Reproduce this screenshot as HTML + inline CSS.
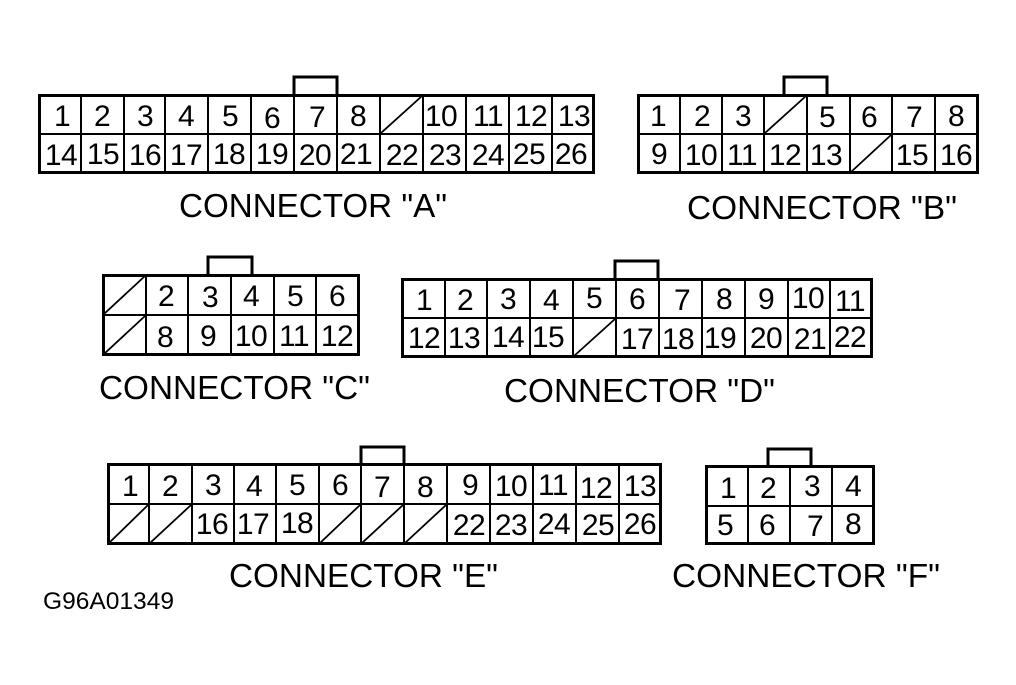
<!DOCTYPE html>
<html><head><meta charset="utf-8"><style>
html,body{margin:0;padding:0;background:#fff}
svg{display:block}
text{font-family:"Liberation Sans",sans-serif;fill:#000}
.n text{font-size:30px;text-anchor:middle;letter-spacing:-0.6px}
.l{font-size:33px}
.o{fill:none;stroke:#000;stroke-width:3}
.i{fill:none;stroke:#000;stroke-width:2}
.s{fill:none;stroke:#000;stroke-width:1.8}
</style></head><body>
<svg width="1016" height="685" viewBox="0 0 1016 685" xmlns="http://www.w3.org/2000/svg">
<!-- A -->
<rect class="o" x="39.5" y="95.5" width="554" height="77"/>
<path class="i" d="M39 134H594M81 95V173M124 95V173M165 95V173M208 95V173M251 95V173M294 95V173M337 95V173M380 95V173M423 95V173M466 95V173M509 95V173M552 95V173"/>
<path class="o" d="M294 95V77H337V95"/>
<path class="s" d="M381 133L422 96"/>
<g class="n">
<text x="62" y="126">1</text><text x="102" y="126">2</text><text x="145" y="126">3</text><text x="186" y="126">4</text><text x="230" y="126">5</text><text x="272" y="128">6</text><text x="317" y="127">7</text><text x="358" y="126">8</text><text x="441" y="126">10</text><text x="488" y="126">11</text><text x="531" y="126">12</text><text x="574" y="126">13</text>
<text x="61" y="165">14</text><text x="103" y="164">15</text><text x="145" y="165">16</text><text x="186" y="165">17</text><text x="229" y="164">18</text><text x="272" y="164">19</text><text x="315" y="165">20</text><text x="356" y="164">21</text><text x="402" y="165">22</text><text x="445" y="165">23</text><text x="488" y="165">24</text><text x="529" y="164">25</text><text x="571" y="164">26</text>
</g>
<text class="l" x="179" y="217" textLength="268" lengthAdjust="spacingAndGlyphs">CONNECTOR "A"</text>
<!-- B -->
<rect class="o" x="638.5" y="95.5" width="339" height="77"/>
<path class="i" d="M638 134H978M680 95V173M722 95V173M764 95V173M807 95V173M850 95V173M892 95V173M935 95V173"/>
<path class="o" d="M784 95V77H827V95"/>
<path class="s" d="M765 133L806 96M851 172L891 135"/>
<g class="n">
<text x="658" y="126">1</text><text x="702" y="126">2</text><text x="743" y="126">3</text><text x="827" y="127">5</text><text x="869" y="127">6</text><text x="914" y="127">7</text><text x="956" y="126">8</text>
<text x="659" y="164">9</text><text x="701" y="165">10</text><text x="742" y="165">11</text><text x="785" y="165">12</text><text x="826" y="165">13</text><text x="912" y="165">15</text><text x="956" y="165">16</text>
</g>
<text class="l" x="687" y="219" textLength="270" lengthAdjust="spacingAndGlyphs">CONNECTOR "B"</text>
<!-- C -->
<rect class="o" x="103.5" y="275.5" width="255" height="79"/>
<path class="i" d="M103 315H358M146 275V355M188 275V355M231 275V355M274 275V355M316 275V355"/>
<path class="o" d="M208 275V257H252V275"/>
<path class="s" d="M104 314L145 276M104 354L145 316"/>
<g class="n">
<text x="166" y="306">2</text><text x="210" y="307">3</text><text x="251" y="306">4</text><text x="295" y="306">5</text><text x="337" y="306">6</text>
<text x="165" y="347">8</text><text x="208" y="346">9</text><text x="251" y="346">10</text><text x="294" y="346">11</text><text x="337" y="346">12</text>
</g>
<text class="l" x="99" y="399" textLength="271" lengthAdjust="spacingAndGlyphs">CONNECTOR "C"</text>
<!-- D -->
<rect class="o" x="402.5" y="279.5" width="469" height="77"/>
<path class="i" d="M402 318H872M445 279V357M487 279V357M530 279V357M573 279V357M616 279V357M659 279V357M702 279V357M745 279V357M788 279V357M830 279V357"/>
<path class="o" d="M615 279V261H658V279"/>
<path class="s" d="M574 356L615 319"/>
<g class="n">
<text x="424" y="310">1</text><text x="465" y="310">2</text><text x="508" y="309">3</text><text x="551" y="310">4</text><text x="594" y="308">5</text><text x="637" y="309">6</text><text x="682" y="310">7</text><text x="724" y="309">8</text><text x="766" y="309">9</text><text x="808" y="308">10</text><text x="850" y="311">11</text>
<text x="424" y="348">12</text><text x="464" y="348">13</text><text x="508" y="347">14</text><text x="548" y="347">15</text><text x="637" y="349">17</text><text x="678" y="349">18</text><text x="720" y="348">19</text><text x="766" y="348">20</text><text x="810" y="349">21</text><text x="850" y="347">22</text>
</g>
<text class="l" x="504" y="402" textLength="271" lengthAdjust="spacingAndGlyphs">CONNECTOR "D"</text>
<!-- E -->
<rect class="o" x="108.5" y="464.5" width="552" height="79"/>
<path class="i" d="M108 504H661M149 464V544M192 464V544M234 464V544M276 464V544M319 464V544M361 464V544M404 464V544M447 464V544M490 464V544M533 464V544M576 464V544M619 464V544"/>
<path class="o" d="M361 464V447H404V464"/>
<path class="s" d="M109 543L148 505M150 543L191 505M320 543L360 505M362 543L403 505M405 543L446 505"/>
<g class="n">
<text x="130" y="496">1</text><text x="170" y="496">2</text><text x="213" y="495">3</text><text x="254" y="496">4</text><text x="297" y="495">5</text><text x="340" y="495">6</text><text x="382" y="497">7</text><text x="425" y="497">8</text><text x="470" y="495">9</text><text x="511" y="496">10</text><text x="553" y="495">11</text><text x="596" y="498">12</text><text x="640" y="496">13</text>
<text x="212" y="534">16</text><text x="253" y="534">17</text><text x="297" y="533">18</text><text x="469" y="535">22</text><text x="511" y="535">23</text><text x="554" y="534">24</text><text x="598" y="535">25</text><text x="640" y="534">26</text>
</g>
<text class="l" x="229" y="587" textLength="269" lengthAdjust="spacingAndGlyphs">CONNECTOR "E"</text>
<!-- F -->
<rect class="o" x="706.5" y="466.5" width="167" height="77"/>
<path class="i" d="M706 506H874M748 466V544M790 466V544M832 466V544"/>
<path class="o" d="M768 466V449H811V466"/>
<g class="n">
<text x="728" y="498">1</text><text x="768" y="498">2</text><text x="812" y="496">3</text><text x="853" y="496">4</text>
<text x="725" y="535">5</text><text x="767" y="535">6</text><text x="815" y="536">7</text><text x="853" y="534">8</text>
</g>
<text class="l" x="672" y="587" textLength="268" lengthAdjust="spacingAndGlyphs">CONNECTOR "F"</text>
<text x="43" y="609" style="font-size:24.5px" textLength="131" lengthAdjust="spacingAndGlyphs">G96A01349</text>
</svg>
</body></html>
